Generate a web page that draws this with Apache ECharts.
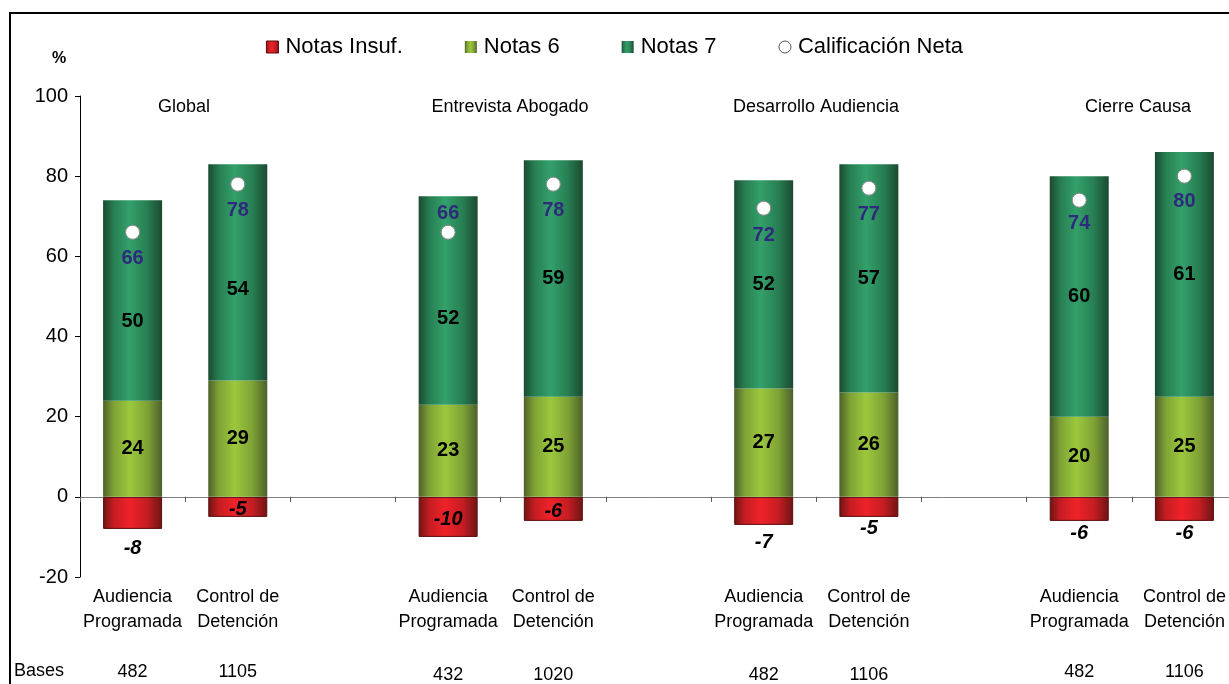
<!DOCTYPE html>
<html>
<head>
<meta charset="utf-8">
<script src="https://cdn.jsdelivr.net/npm/echarts@6/dist/echarts.min.js"></script>
<style>
  html, body { margin: 0; padding: 0; background: #fff; }
  #chart { width: 1229px; height: 684px; }
</style>
</head>
<body>
<div id="chart"></div>
<script>
// Groups and the two hearing types shown in each group
const groups = ['Global', 'Entrevista Abogado', 'Desarrollo Audiencia', 'Cierre Causa'];
const types = ['Audiencia\nProgramada', 'Control de\nDetención'];
const bases = [482, 1105, 432, 1020, 482, 1106, 482, 1106];

// Values (%) in bar order: group 1 type 1, group 1 type 2, group 2 type 1, ...
const notasInsuf = [-8, -5, -10, -6, -7, -5, -6, -6];
const notas6 = [24, 29, 23, 25, 27, 26, 20, 25];
const notas7 = [50, 54, 52, 59, 52, 57, 60, 61];
const calificacionNeta = [66, 78, 66, 78, 72, 77, 74, 80];

const yTicks = { min: -20, max: 100, interval: 20 };

// Label placement per bar
const insufLabelPos = ['outside', 'inside', 'inside', 'inside', 'outside', 'outside', 'outside', 'outside'];
const insufLabelDist = [10, 0, 0, 0, 8, 2, 3, 3];
const notas7LabelShift = [21, 17, 18, 0, 0, 0, 0, 0];
const netaLabelPos = ['bottom', 'bottom', 'top', 'bottom', 'bottom', 'bottom', 'bottom', 'bottom'];
const netaLabelDist = [9, 9, 1, 9, 10, 9, 6, 8];
// Vertical drop of the "Bases" row under each group
const baseRowDrop = [0, 6, 6, 0];

const FONT = '"Liberation Sans", Arial, sans-serif';

// Category slots: two bars per group, with an empty slot between groups
const slotNames = [];
const slotBar = [];
groups.forEach((g, gi) => {
  types.forEach((t, ti) => {
    slotNames.push(g + ' / ' + t.replace('\n', ' '));
    slotBar.push(gi * 2 + ti);
  });
  if (gi < groups.length - 1) {
    slotNames.push(g + ' /');
    slotBar.push(-1);
  }
});

function toSlots(values, extra) {
  return slotBar.map(b => {
    if (b < 0) return '-';
    const item = { value: values[b] };
    if (extra) Object.assign(item, extra(b));
    return item;
  });
}

function cylinder(edge, mid, light) {
  return new echarts.graphic.LinearGradient(0, 0, 1, 0, [
    { offset: 0, color: edge },
    { offset: 0.18, color: mid },
    { offset: 0.45, color: light },
    { offset: 0.75, color: mid },
    { offset: 1, color: edge }
  ]);
}

const redFill = cylinder('#6e1414', '#c41d22', '#ef2229');
const lightGreenFill = cylinder('#4c612c', '#7fa235', '#9cc83d');
const darkGreenFill = cylinder('#1b4a31', '#277e52', '#33a06a');

const valueLabel = {
  show: true,
  color: '#000',
  fontFamily: FONT,
  fontSize: 20,
  fontWeight: 'bold'
};

const titleStyle = { align: 'center', verticalAlign: 'middle', fontFamily: FONT, fontSize: 18, fill: '#000' };

const baseRich = {};
baseRowDrop.forEach((d, gi) => {
  baseRich['b' + gi] = { fontFamily: FONT, fontSize: 18, color: '#000', lineHeight: 25, padding: [d, 0, 0, 0] };
});

const chart = echarts.init(document.getElementById('chart'));

chart.setOption({
  animation: false,
  backgroundColor: '#fff',
  textStyle: { fontFamily: FONT },
  legend: {
    top: 31,
    left: 'center',
    itemWidth: 12,
    itemHeight: 12,
    itemGap: 62,
    textStyle: { fontFamily: FONT, fontSize: 22, color: '#000', padding: [0, 0, 0, 2] },
    data: [
      { name: 'Notas Insuf.', icon: 'rect', itemStyle: { borderColor: '#5a0c0c', borderWidth: 1 } },
      { name: 'Notas 6', icon: 'rect' },
      { name: 'Notas 7', icon: 'rect' },
      { name: 'Calificación Neta', icon: 'circle', itemStyle: { color: '#fff', borderColor: '#555', borderWidth: 1 } }
    ]
  },
  grid: { left: 80, top: 96, bottom: 107, right: -8, containLabel: false, outerBoundsMode: 'none' },
  xAxis: {
    type: 'category',
    data: slotNames,
    axisLine: { onZero: true, lineStyle: { color: '#808080', width: 1 } },
    axisTick: { show: true, interval: 0, length: 5, lineStyle: { color: '#555' } },
    axisLabel: {
      interval: 0,
      margin: 8,
      color: '#000',
      fontFamily: FONT,
      fontSize: 18,
      lineHeight: 25,
      rich: baseRich,
      formatter: (v, i) => {
        const b = slotBar[i];
        if (b < 0) return '';
        return types[b % 2] + '\n\n{b' + Math.floor(b / 2) + '|' + bases[b] + '}';
      }
    },
    splitLine: { show: false }
  },
  yAxis: {
    type: 'value',
    min: yTicks.min,
    max: yTicks.max,
    interval: yTicks.interval,
    axisLine: { show: true, lineStyle: { color: '#000', width: 1 } },
    axisTick: { show: true, length: 5, lineStyle: { color: '#000' } },
    axisLabel: { color: '#000', fontFamily: FONT, fontSize: 20, margin: 12 },
    splitLine: { show: false }
  },
  series: [
    {
      name: 'Notas Insuf.',
      type: 'bar',
      stack: 'notas',
      barWidth: 59,
      itemStyle: { color: redFill, borderColor: '#5a0c0c', borderWidth: 1 },
      label: Object.assign({}, valueLabel, { fontStyle: 'italic' }),
      data: toSlots(notasInsuf, b => ({
        label: insufLabelPos[b] === 'inside'
          ? { position: 'inside', offset: [0, 3] }
          : { position: 'outside', distance: insufLabelDist[b] }
      }))
    },
    {
      name: 'Notas 6',
      type: 'bar',
      stack: 'notas',
      barWidth: 59,
      itemStyle: { color: lightGreenFill },
      label: Object.assign({}, valueLabel, { position: 'inside' }),
      data: toSlots(notas6)
    },
    {
      name: 'Notas 7',
      type: 'bar',
      stack: 'notas',
      barWidth: 59,
      itemStyle: { color: darkGreenFill },
      label: Object.assign({}, valueLabel, { position: 'inside' }),
      data: toSlots(notas7, b => ({ label: { offset: [0, notas7LabelShift[b]] } }))
    },
    {
      name: 'Calificación Neta',
      type: 'scatter',
      symbol: 'circle',
      symbolSize: 14,
      z: 5,
      itemStyle: { color: '#fff', borderColor: '#8a8a8a', borderWidth: 1, opacity: 1 },
      label: {
        show: true,
        color: '#2e2b7c',
        fontFamily: FONT,
        fontSize: 20,
        fontWeight: 'bold'
      },
      data: toSlots(calificacionNeta, b => ({
        label: { position: netaLabelPos[b], distance: netaLabelDist[b] }
      }))
    }
  ],
  graphic: [
    {
      type: 'rect',
      silent: true,
      shape: { x: 10, y: 13, width: 1400, height: 1000 },
      style: { fill: 'none', stroke: '#000', lineWidth: 2 }
    },
    {
      type: 'text', left: 52, top: 51,
      style: { text: '%', fontFamily: FONT, fontSize: 16, fontWeight: 'bold', fill: '#000' }
    },
    {
      type: 'text', left: 14, top: 662,
      style: { text: 'Bases', fontFamily: FONT, fontSize: 18, fill: '#000' }
    },
    { type: 'text', x: 184, y: 107, style: Object.assign({ text: groups[0] }, titleStyle) },
    { type: 'text', x: 510, y: 107, style: Object.assign({ text: groups[1] }, titleStyle) },
    { type: 'text', x: 816, y: 107, style: Object.assign({ text: groups[2] }, titleStyle) },
    { type: 'text', x: 1138, y: 107, style: Object.assign({ text: groups[3] }, titleStyle) }
  ]
});
</script>
</body>
</html>
